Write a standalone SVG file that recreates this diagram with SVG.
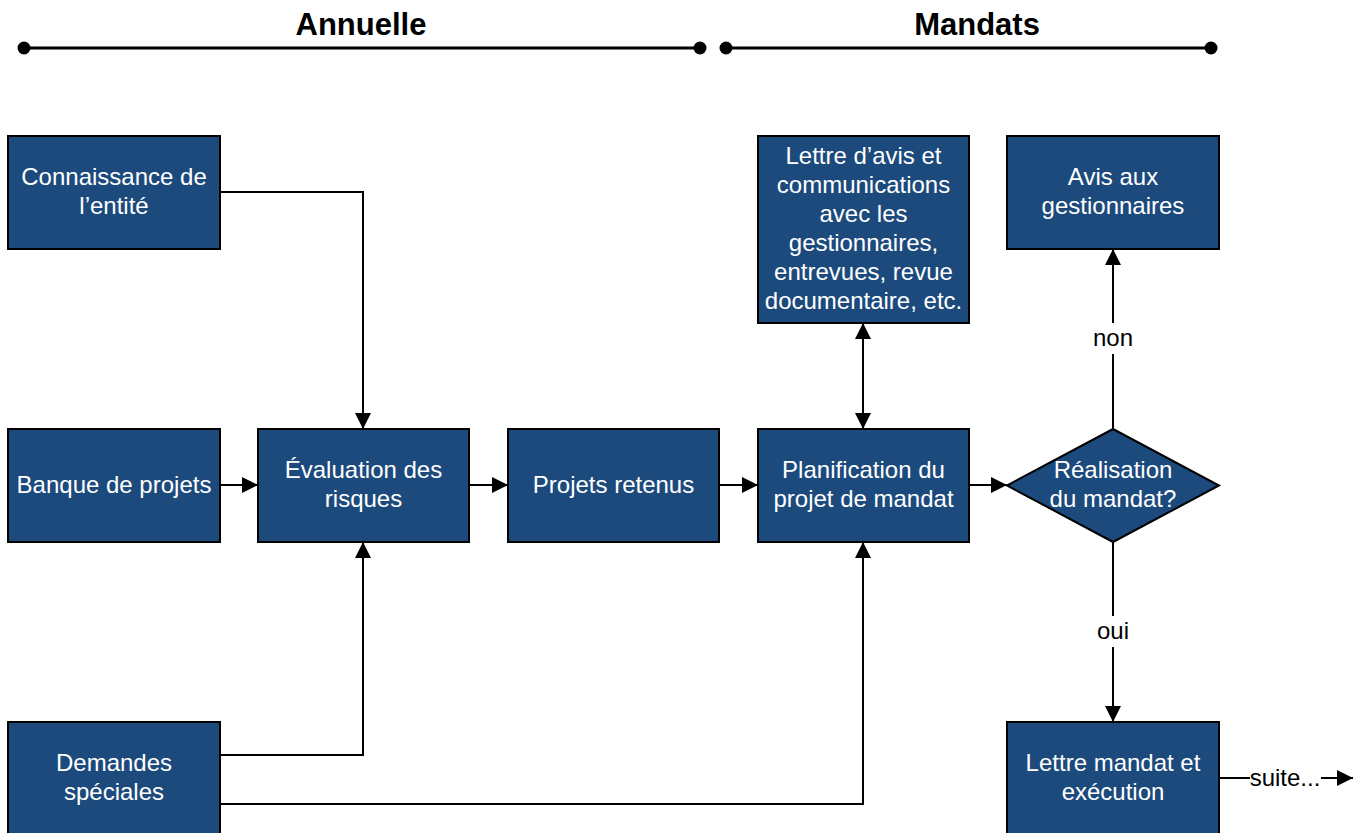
<svg xmlns="http://www.w3.org/2000/svg" width="1371" height="833" viewBox="0 0 1371 833">
<style>
.box{fill:#1C4A7D;stroke:#000;stroke-width:2}
.t{font-family:"Liberation Sans",Arial,sans-serif;font-size:24px;fill:#fff;text-anchor:middle}
.lbl{font-family:"Liberation Sans",Arial,sans-serif;font-size:24px;fill:#000;text-anchor:middle}
.title{font-family:"Liberation Sans",Arial,sans-serif;font-size:31px;font-weight:bold;fill:#000;text-anchor:middle}
.c{fill:none;stroke:#000;stroke-width:2}
.tl{stroke:#000;stroke-width:3}
</style>
<defs>
<marker id="ah" viewBox="0 0 16 16" refX="16" refY="8" markerWidth="16" markerHeight="16" markerUnits="userSpaceOnUse" orient="auto-start-reverse">
<path d="M0,0 L16,8 L0,16 Z" fill="#000"/>
</marker>
</defs>
<rect width="1371" height="833" fill="#fff"/>
<g id="timeline">
<line class="tl" x1="24" y1="48" x2="700" y2="48"/>
<circle cx="24" cy="48" r="6.5"/>
<circle cx="700" cy="48" r="6.5"/>
<line class="tl" x1="726" y1="48" x2="1211" y2="48"/>
<circle cx="726" cy="48" r="6.5"/>
<circle cx="1211" cy="48" r="6.5"/>
<text class="title" x="361" y="35">Annuelle</text>
<text class="title" x="977" y="35">Mandats</text>
</g>
<g id="connectors">
<polyline class="c" points="220,192 363,192 363,429" marker-end="url(#ah)"/>
<line class="c" x1="220" y1="485" x2="258" y2="485" marker-end="url(#ah)"/>
<line class="c" x1="469" y1="485" x2="508" y2="485" marker-end="url(#ah)"/>
<line class="c" x1="719" y1="485" x2="758" y2="485" marker-end="url(#ah)"/>
<line class="c" x1="969" y1="485" x2="1007" y2="485" marker-end="url(#ah)"/>
<line class="c" x1="863" y1="323" x2="863" y2="429" marker-start="url(#ah)" marker-end="url(#ah)"/>
<polyline class="c" points="220,755 363,755 363,542" marker-end="url(#ah)"/>
<polyline class="c" points="220,804 863,804 863,542" marker-end="url(#ah)"/>
<line class="c" x1="1113" y1="429" x2="1113" y2="249" marker-end="url(#ah)"/>
<line class="c" x1="1113" y1="542" x2="1113" y2="722" marker-end="url(#ah)"/>
<rect x="1088" y="323" width="50" height="31" fill="#fff"/>
<text class="lbl" x="1113" y="345.5">non</text>
<rect x="1093" y="616" width="40" height="31" fill="#fff"/>
<text class="lbl" x="1113" y="638.5">oui</text>
<line class="c" x1="1219" y1="778" x2="1250" y2="778"/>
<text class="lbl" x="1285" y="785.5">suite...</text>
<line class="c" x1="1321" y1="778" x2="1353" y2="778" marker-end="url(#ah)"/>
</g>
<g id="connaissance">
<rect class="box" x="8" y="136" width="212" height="113"/>
<text class="t" x="114" y="185">Connaissance de</text>
<text class="t" x="114" y="214">l’entité</text>
</g>
<g id="banque">
<rect class="box" x="8" y="429" width="212" height="113"/>
<text class="t" x="114" y="492.5">Banque de projets</text>
</g>
<g id="evaluation">
<rect class="box" x="258" y="429" width="211" height="113"/>
<text class="t" x="363.5" y="477.5">Évaluation des</text>
<text class="t" x="363.5" y="506.5">risques</text>
</g>
<g id="projets">
<rect class="box" x="508" y="429" width="211" height="113"/>
<text class="t" x="613.5" y="492.5">Projets retenus</text>
</g>
<g id="planification">
<rect class="box" x="758" y="429" width="211" height="113"/>
<text class="t" x="863.5" y="477.5">Planification du</text>
<text class="t" x="863.5" y="506.5">projet de mandat</text>
</g>
<g id="lettre-avis">
<rect class="box" x="758" y="136" width="211" height="187"/>
<text class="t" x="863.5" y="164">Lettre d’avis et</text>
<text class="t" x="863.5" y="193">communications</text>
<text class="t" x="863.5" y="222">avec les</text>
<text class="t" x="863.5" y="251">gestionnaires,</text>
<text class="t" x="863.5" y="280">entrevues, revue</text>
<text class="t" x="863.5" y="309">documentaire, etc.</text>
</g>
<g id="avis">
<rect class="box" x="1007" y="136" width="212" height="113"/>
<text class="t" x="1113" y="185">Avis aux</text>
<text class="t" x="1113" y="214">gestionnaires</text>
</g>
<g id="decision">
<polygon class="box" points="1113,429 1219,485.5 1113,542 1007,485.5"/>
<text class="t" x="1113" y="477.5">Réalisation</text>
<text class="t" x="1113" y="506.5">du mandat?</text>
</g>
<g id="demandes">
<rect class="box" x="8" y="722" width="212" height="120"/>
<text class="t" x="114" y="770.5">Demandes</text>
<text class="t" x="114" y="799.5">spéciales</text>
</g>
<g id="lettre-mandat">
<rect class="box" x="1007" y="722" width="212" height="120"/>
<text class="t" x="1113" y="770.5">Lettre mandat et</text>
<text class="t" x="1113" y="799.5">exécution</text>
</g>
</svg>
